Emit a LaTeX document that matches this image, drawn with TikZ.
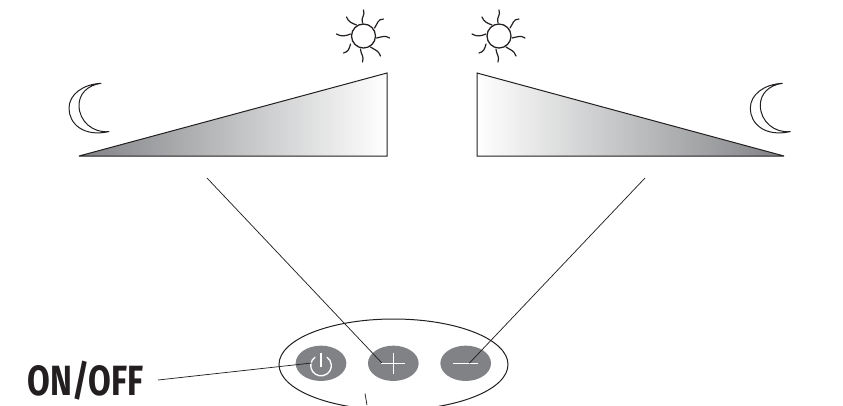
\documentclass[tikz,border=0pt]{standalone}
\usepackage{fontspec}
\setmainfont{Fira Sans}
\usepackage{graphicx}
\usetikzlibrary{calc,shapes.geometric}
\definecolor{btn}{HTML}{808285}
\definecolor{ink}{HTML}{231F20}
\tikzset{
  x=0.75pt,y=-0.75pt,
  rayline/.style={ink,line width=0.9pt,line cap=round},
  outline/.style={ink,line width=0.75pt},
  leader/.style={ink,line width=0.55pt},
  btnshape/.style={ellipse,fill=btn,minimum width=38pt,minimum height=26.5pt,inner sep=0pt},
  glyph/.style={white,line width=1pt},
  sun/.pic={
    \draw[outline,line width=0.95pt] (0,0) circle[radius=12];
    \draw[rayline] (-1,-13) .. controls (-3,-19) and (2,-20) .. (0,-26);
    \draw[rayline] (11,-8) .. controls (14,-12) and (14,-17) .. (20,-17);
    \draw[rayline] (13,2) .. controls (18,1) and (22,-1) .. (26,2);
    \draw[rayline] (7,11) .. controls (11,14) and (15,14) .. (17,20);
    \draw[rayline] (-3,13) .. controls (-3,18) and (1,20) .. (-1,26);
    \draw[rayline] (-13,8) .. controls (-14,12) and (-15,16) .. (-20,17);
    \draw[rayline] (-13,-2) .. controls (-18,0) and (-22,1) .. (-27,-2);
    \draw[rayline] (-7,-11) .. controls (-12,-13) and (-15,-14) .. (-17,-19);
  },
  moon/.pic={
    \draw[outline,line join=round] (0,0) .. controls (-18,1) and (-32,11) .. (-32,25)
       .. controls (-32,40) and (-18,54) .. (8,48.3)
       .. controls (-8,50) and (-22,38) .. (-22,22)
       .. controls (-22,11) and (-14,2) .. (0,0) -- cycle;
  }
}
\begin{document}
\begin{tikzpicture}
\useasboundingbox (0,0) rectangle (843,405);
\begin{scope}
\clip (0,0) rectangle (843,405);
\draw[outline] (393.5,364.5) ellipse[x radius=114.5,y radius=45.5];
\end{scope}
\node[btnshape] (power) at (321,363.3) {};
\node[btnshape] (plus) at (393.3,363.3) {};
\node[btnshape] (minus) at (465.7,363.3) {};
% glyphs
\draw[glyph] ($(power)+(0,-10.5)$) -- ($(power)+(0,4)$);
\draw[glyph] ($(power)+(0,2.2)+(-5.9,-8.4)$) arc[start angle=-125,end angle=-415,radius=10.3];
\draw[glyph] ($(plus)+(-12,0)$) -- ($(plus)+(12,0)$);
\draw[glyph] ($(plus)+(0,-10)$) -- ($(plus)+(0,11)$);
\draw[glyph] ($(minus)+(-12.5,0)$) -- ($(minus)+(12.5,0)$);
% wedges
\shade[left color=btn,right color=white,draw=ink,line width=0.75pt,line join=miter,miter limit=3] (79,156) -- (387,73) -- (387,156) -- cycle;
\shade[left color=white,right color=btn,draw=ink,line width=0.75pt,line join=miter,miter limit=3] (477,73) -- (784,156) -- (477,156) -- cycle;
\pic at (363.5,36) {sun};
\pic at (499,36) {sun};
\pic at (101,83.3) {moon};
\pic at (782.3,83.3) {moon};
% connectors
\coordinate (plusfrom) at (207,178);
\coordinate (minusfrom) at (645,178);
\coordinate (labelend) at (158,380);
\coordinate (tickA) at (365,393.5);
\coordinate (tickB) at (367,405);
\coordinate (plustip) at (381.7,362.8);
\coordinate (minustip) at (469.3,363.2);
\coordinate (powertip) at (311.7,363);
\draw[leader] (plusfrom) -- (plustip);
\draw[leader] (minusfrom) -- (minustip);
\draw[leader] (labelend) -- (powertip);
\draw[leader] (tickA) -- (tickB);
\node[anchor=west,inner sep=0pt] (onoff) at (27.5,381) {\resizebox{87pt}{!}{\fontspec{Fira Sans}[FakeStretch=0.78]\bfseries\color{ink} ON/OFF}};
\end{tikzpicture}
\end{document}
